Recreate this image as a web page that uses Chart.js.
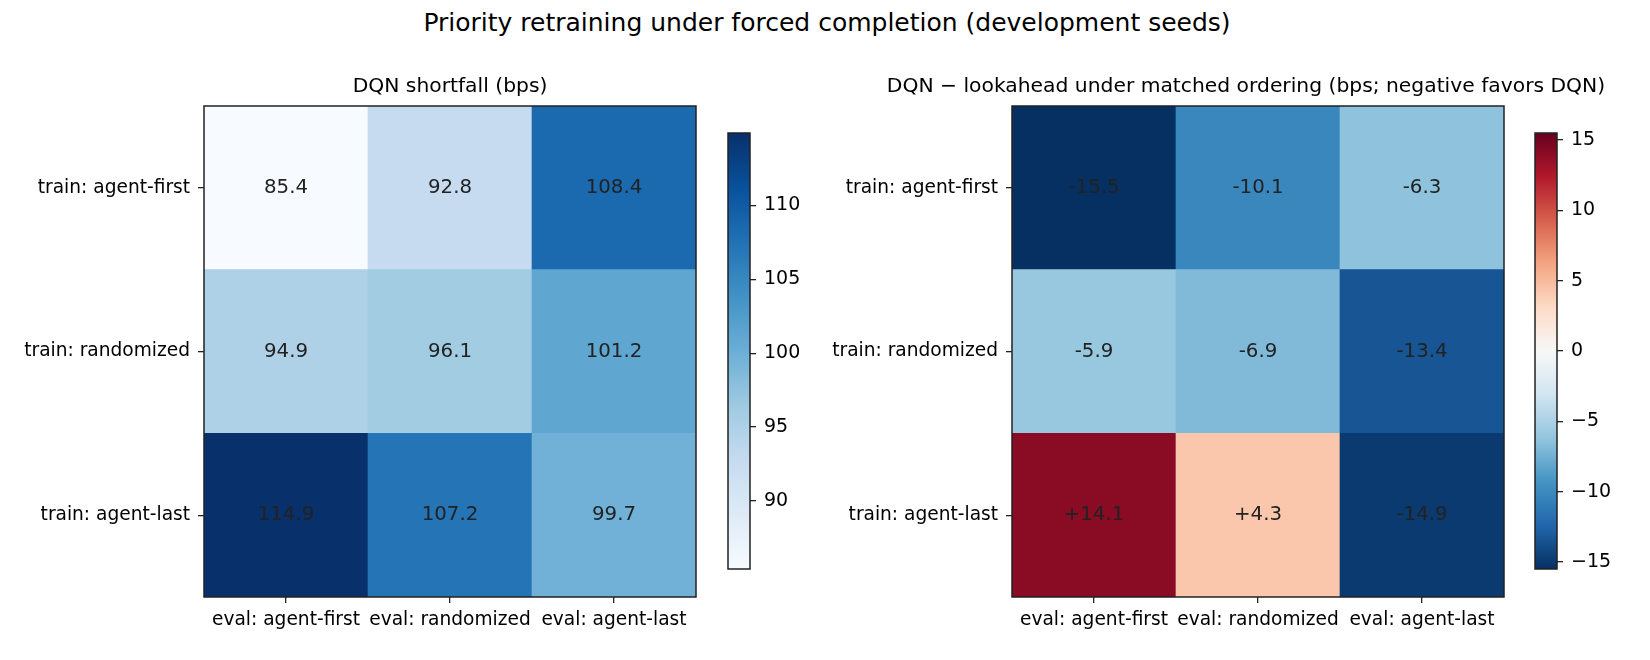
<!DOCTYPE html>
<html>
<head>
<meta charset="utf-8">
<script src="https://cdn.jsdelivr.net/npm/chart.js@4.4.1/dist/chart.umd.min.js"></script>
<style>
  body { margin: 0; background: #fff; width: 1650px; height: 660px; position: relative; overflow: hidden; }
  .box { position: absolute; top: 0; height: 660px; }
  #suptitle { position: absolute; left: 2px; width: 1650px; top: 8px; text-align: center;
              font-family: 'DejaVu Sans'; font-size: 25px; color: #000; line-height: 30px; }
</style>
</head>
<body>
<div id="suptitle">Priority retraining under forced completion (development seeds)</div>
<div class="box" style="left:0;width:720px"><canvas id="heatLeft"></canvas></div>
<div class="box" style="left:700px;width:120px"><canvas id="barLeft"></canvas></div>
<div class="box" style="left:720px;width:930px"><canvas id="heatRight"></canvas></div>
<div class="box" style="left:1507px;width:120px"><canvas id="barRight"></canvas></div>
<script>
// data
const evalLabels = ['eval: agent-first', 'eval: randomized', 'eval: agent-last'];
const trainLabels = ['train: agent-first', 'train: randomized', 'train: agent-last'];

const shortfallAgentFirst = [85.4, 92.8, 108.4];
const shortfallRandomized = [94.9, 96.1, 101.2];
const shortfallAgentLast  = [114.9, 107.2, 99.7];

const diffAgentFirst = [-15.5, -10.1, -6.3];
const diffRandomized = [-5.9, -6.9, -13.4];
const diffAgentLast  = [14.1, 4.3, -14.9];

const leftTicks = [90, 95, 100, 105, 110];
const rightTicks = [-15, -10, -5, 0, 5, 10, 15];
const rowTicks = [0.5, 1.5, 2.5];

// colormaps (matplotlib Blues / RdBu_r)
const blues = ['#f7fbff', '#deebf7', '#c6dbef', '#9ecae1', '#6baed6', '#4292c6', '#2171b5', '#08519c', '#08306b'];
const rdbuR = ['#053061', '#2166ac', '#4393c3', '#92c5de', '#d1e5f0', '#f7f7f7', '#fddbc7', '#f4a582', '#d6604d', '#b2182b', '#67001f'];

function hex(c) { return [1, 3, 5].map(i => parseInt(c.substr(i, 2), 16)); }
function cmap(stops, t) {
  t = Math.max(0, Math.min(1, t));
  const p = t * (stops.length - 1);
  const i = Math.min(Math.floor(p), stops.length - 2);
  const f = p - i;
  const a = hex(stops[i]), b = hex(stops[i + 1]);
  const c = a.map((v, k) => Math.round(v + (b[k] - v) * f));
  return 'rgb(' + c.join(',') + ')';
}

Chart.defaults.font.family = 'DejaVu Sans';
Chart.defaults.color = '#000';
Chart.defaults.animation = false;
Chart.defaults.devicePixelRatio = 1;

const framePlugin = {
  id: 'frame',
  afterDraw(chart) {
    const a = chart.chartArea, ctx = chart.ctx;
    ctx.save();
    ctx.strokeStyle = '#222';
    ctx.lineWidth = 1.5;
    ctx.strokeRect(a.left, a.top, a.right - a.left, a.bottom - a.top);
    ctx.restore();
  }
};

// axes title centred over the plot area (text may run wider than the area)
const axTitle = {
  id: 'axTitle',
  afterDraw(chart, args, opts) {
    const a = chart.chartArea, ctx = chart.ctx;
    ctx.save();
    ctx.font = '20.3px DejaVu Sans';
    ctx.fillStyle = '#000';
    ctx.textAlign = 'center';
    ctx.textBaseline = 'middle';
    ctx.fillText(opts.text, (a.left + a.right) / 2 + (opts.dx || 0), a.top - 19);
    ctx.restore();
  }
};

const cellText = {
  id: 'cellText',
  afterDatasetsDraw(chart, args, opts) {
    const ctx = chart.ctx;
    ctx.save();
    ctx.font = '19.8px DejaVu Sans';
    ctx.fillStyle = '#222';
    ctx.textAlign = 'center';
    ctx.textBaseline = 'middle';
    chart.data.datasets.forEach((ds, d) => {
      chart.getDatasetMeta(d).data.forEach((bar, i) => {
        const p = bar.getProps(['x', 'y', 'base'], true);
        ctx.fillText(opts.format(ds.values[i]), p.x, (p.y + p.base) / 2);
      });
    });
    ctx.restore();
  }
};

function heatmap(id, rows, stops, vmin, vmax, title, format, leftW, padRight, titleDx) {
  // rows are top-to-bottom; stacked bars build from the bottom
  const datasets = rows.slice().reverse().map(r => ({
    data: r.map(() => 1),
    values: r,
    backgroundColor: r.map(v => cmap(stops, (v - vmin) / (vmax - vmin))),
    borderWidth: 0,
    barPercentage: 1,
    categoryPercentage: 1
  }));
  new Chart(document.getElementById(id), {
    type: 'bar',
    data: { labels: evalLabels, datasets: datasets },
    options: {
      responsive: true,
      maintainAspectRatio: false,
      layout: { padding: { top: 106, right: padRight } },
      plugins: {
        legend: { display: false },
        tooltip: { enabled: false },
        axTitle: { text: title, dx: titleDx },
        cellText: { format: format }
      },
      scales: {
        x: {
          stacked: true,
          grid: { offset: false, drawOnChartArea: false, color: '#222', lineWidth: 1.3, tickLength: 6 },
          border: { display: false },
          ticks: { font: { size: 18.6 }, color: '#000', padding: 6, maxRotation: 0, autoSkip: false },
          afterFit(s) { s.height = 63; }
        },
        y: {
          stacked: true, min: 0, max: 3,
          grid: { drawOnChartArea: false, color: '#222', lineWidth: 1.3, tickLength: 6 },
          border: { display: false },
          afterBuildTicks(s) { s.ticks = rowTicks.map(v => ({ value: v })); },
          ticks: { font: { size: 18.6 }, color: '#000', padding: 8, autoSkip: false,
                   callback: v => trainLabels[2 - Math.floor(v)] },
          afterFit(s) { s.width = leftW; }
        }
      }
    },
    plugins: [cellText, framePlugin, axTitle]
  });
}

function colorbar(id, stops, vmin, vmax, ticks) {
  new Chart(document.getElementById(id), {
    type: 'bar',
    data: {
      labels: [''],
      datasets: [{
        data: [[vmin, vmax]],
        borderWidth: 0,
        barPercentage: 1,
        categoryPercentage: 1,
        backgroundColor(c) {
          const chart = c.chart, a = chart.chartArea;
          if (!a) return stops[0];
          const y = chart.scales.y;
          const g = chart.ctx.createLinearGradient(0, y.getPixelForValue(vmin), 0, y.getPixelForValue(vmax));
          for (let k = 0; k <= 40; k++) g.addColorStop(k / 40, cmap(stops, k / 40));
          return g;
        }
      }]
    },
    options: {
      responsive: true,
      maintainAspectRatio: false,
      layout: { padding: { left: 28, top: 133, bottom: 91 } },
      plugins: { legend: { display: false }, tooltip: { enabled: false } },
      scales: {
        x: { display: false },
        y: {
          position: 'right', min: vmin, max: vmax,
          grid: { drawOnChartArea: false, color: '#222', lineWidth: 1.3, tickLength: 6 },
          border: { display: false },
          afterBuildTicks(s) { s.ticks = ticks.map(v => ({ value: v })); },
          ticks: { font: { size: 19 }, color: '#000', padding: 8, autoSkip: false,
                   callback: v => v < 0 ? '\u2212' + Math.abs(v) : String(v) },
          afterFit(s) { s.width = 70; }
        }
      }
    },
    plugins: [framePlugin]
  });
}

const shortRows = [shortfallAgentFirst, shortfallRandomized, shortfallAgentLast];
const diffRows = [diffAgentFirst, diffRandomized, diffAgentLast];
const sMin = Math.min(...shortRows.flat()), sMax = Math.max(...shortRows.flat());
const dMax = Math.max(...diffRows.flat().map(Math.abs));

heatmap('heatLeft', shortRows, blues, sMin, sMax, 'DQN shortfall (bps)',
        v => v.toFixed(1), 204, 24, 0);
heatmap('heatRight', diffRows, rdbuR, -dMax, dMax,
        'DQN \u2212 lookahead under matched ordering (bps; negative favors DQN)',
        v => (v > 0 ? '+' : '') + v.toFixed(1), 292, 146, -12);
colorbar('barLeft', blues, sMin, sMax, leftTicks);
colorbar('barRight', rdbuR, -dMax, dMax, rightTicks);
</script>
</body>
</html>
